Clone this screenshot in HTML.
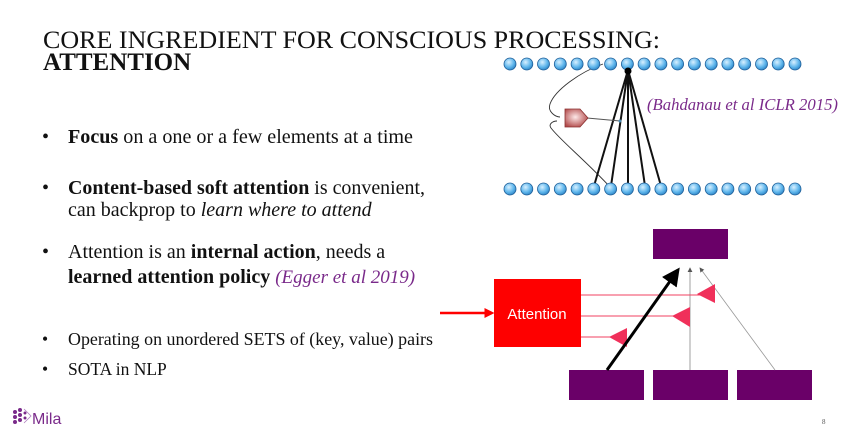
<!DOCTYPE html>
<html><head><meta charset="utf-8"><style>
html,body{margin:0;padding:0;background:#fff;}
svg{display:block;}
text{font-family:"Liberation Serif",serif;}
</style></head><body>
<svg width="865" height="440" viewBox="0 0 865 440" xmlns="http://www.w3.org/2000/svg">
<defs>
<radialGradient id="cg" cx="40%" cy="35%" r="70%">
<stop offset="0" stop-color="#d8f0ff"/><stop offset="0.6" stop-color="#5fb6ec"/><stop offset="1" stop-color="#2a7fc0"/>
</radialGradient>
<radialGradient id="pg" cx="45%" cy="45%" r="60%">
<stop offset="0" stop-color="#fde8e8"/><stop offset="1" stop-color="#b24a4a"/>
</radialGradient>
<marker id="ah" markerWidth="6" markerHeight="6" refX="5" refY="3" orient="auto" markerUnits="strokeWidth">
<path d="M0,0 L6,3 L0,6 z" fill="#000"/></marker>
<marker id="ahs" markerWidth="6" markerHeight="6" refX="5" refY="3" orient="auto" markerUnits="strokeWidth">
<path d="M0,0 L6,3 L0,6 z" fill="#555"/></marker>
<marker id="ahr" markerWidth="4" markerHeight="4" refX="3" refY="2" orient="auto" markerUnits="strokeWidth">
<path d="M0,0 L4,2 L0,4 z" fill="#f00"/></marker>
</defs>

<!-- Title -->
<text x="43" y="48" font-size="25.5" fill="#111" textLength="617" lengthAdjust="spacingAndGlyphs">CORE INGREDIENT FOR CONSCIOUS PROCESSING:</text>
<text x="43" y="70" font-size="25" font-weight="bold" fill="#111">ATTENTION</text>

<!-- Bullets -->
<g font-size="20" fill="#111">
<text x="42" y="143">•</text>
<text x="68" y="143" textLength="345" lengthAdjust="spacingAndGlyphs"><tspan font-weight="bold">Focus</tspan> on a one or a few elements at a time</text>
<text x="42" y="194">•</text>
<text x="68" y="194" textLength="357" lengthAdjust="spacingAndGlyphs"><tspan font-weight="bold">Content-based soft attention</tspan> is convenient,</text>
<text x="68" y="216">can backprop to <tspan font-style="italic">learn where to attend</tspan></text>
<text x="42" y="258">•</text>
<text x="68" y="258">Attention is an <tspan font-weight="bold">internal action</tspan>, needs a</text>
<text x="68" y="283"><tspan font-weight="bold">learned attention policy</tspan> <tspan font-style="italic" fill="#7a2a8a" font-size="19">(Egger et al 2019)</tspan></text>
</g>
<g font-size="17.5" fill="#111">
<text x="42" y="345">•</text>
<text x="68" y="345" textLength="365" lengthAdjust="spacingAndGlyphs">Operating on unordered SETS of (key, value) pairs</text>
<text x="42" y="375">•</text>
<text x="68" y="375">SOTA in NLP</text>
</g>

<!-- Mila logo -->
<g fill="#7a2a8a">
<circle cx="15" cy="412" r="2"/><circle cx="20" cy="410" r="2"/><circle cx="15" cy="417" r="2"/><circle cx="20" cy="415" r="2"/>
<circle cx="15" cy="422" r="2"/><circle cx="20" cy="420" r="2"/><circle cx="25" cy="413" r="1.5"/><circle cx="25" cy="418" r="1.5"/>
<path d="M24,409 L31,416 L24,423" fill="none" stroke="#b080c0" stroke-width="0.8"/>
</g>
<text x="32" y="424" font-size="16" fill="#7a2a8a" style="font-family:'Liberation Sans',sans-serif">Mila</text>
<text x="822" y="424" font-size="7" fill="#555">8</text>

<!-- Bahdanau network -->
<g stroke="#333" stroke-width="0.9" fill="none">
<path d="M603,64 C580,72 555,90 550,104 C547,112 556,117 560,117"/>
<path d="M611,188 C585,160 560,140 551,128 C548,124 553,121 557,121"/>
</g>
<g stroke="#111" stroke-width="2">
<line x1="628" y1="70" x2="594" y2="186"/>
<line x1="628" y1="70" x2="611" y2="186"/>
<line x1="628" y1="70" x2="628" y2="186"/>
<line x1="628" y1="70" x2="645" y2="186"/>
<line x1="628" y1="70" x2="661" y2="186"/>
</g>
<line x1="587" y1="118" x2="620" y2="121" stroke="#555" stroke-width="1"/>
<circle cx="620" cy="121" r="1.5" fill="#4a8ab0"/>
<polygon points="565,109 580,109 588,118 580,127 565,127" fill="url(#pg)" stroke="#8a3030" stroke-width="0.8"/>
<g stroke="#1f5f99" stroke-width="0.8" fill="url(#cg)">
<circle cx="510" cy="64" r="6"/><circle cx="526.8" cy="64" r="6"/><circle cx="543.5" cy="64" r="6"/><circle cx="560.3" cy="64" r="6"/><circle cx="577.1" cy="64" r="6"/><circle cx="593.8" cy="64" r="6"/><circle cx="610.6" cy="64" r="6"/><circle cx="627.4" cy="64" r="6"/><circle cx="644.1" cy="64" r="6"/><circle cx="660.9" cy="64" r="6"/><circle cx="677.6" cy="64" r="6"/><circle cx="694.4" cy="64" r="6"/><circle cx="711.2" cy="64" r="6"/><circle cx="727.9" cy="64" r="6"/><circle cx="744.7" cy="64" r="6"/><circle cx="761.5" cy="64" r="6"/><circle cx="778.2" cy="64" r="6"/><circle cx="795" cy="64" r="6"/>
<circle cx="510" cy="189" r="6"/><circle cx="526.8" cy="189" r="6"/><circle cx="543.5" cy="189" r="6"/><circle cx="560.3" cy="189" r="6"/><circle cx="577.1" cy="189" r="6"/><circle cx="593.8" cy="189" r="6"/><circle cx="610.6" cy="189" r="6"/><circle cx="627.4" cy="189" r="6"/><circle cx="644.1" cy="189" r="6"/><circle cx="660.9" cy="189" r="6"/><circle cx="677.6" cy="189" r="6"/><circle cx="694.4" cy="189" r="6"/><circle cx="711.2" cy="189" r="6"/><circle cx="727.9" cy="189" r="6"/><circle cx="744.7" cy="189" r="6"/><circle cx="761.5" cy="189" r="6"/><circle cx="778.2" cy="189" r="6"/><circle cx="795" cy="189" r="6"/>
</g>
<circle cx="628" cy="71" r="3.5" fill="#000"/>
<text x="647" y="110" font-size="16.5" font-style="italic" fill="#7a2a8a" textLength="191" lengthAdjust="spacingAndGlyphs">(Bahdanau et al ICLR 2015)</text>

<!-- Attention diagram -->
<rect x="653" y="229" width="75" height="30" fill="#6a0068"/>
<rect x="569" y="370" width="75" height="30" fill="#6a0068"/>
<rect x="653" y="370" width="75" height="30" fill="#6a0068"/>
<rect x="737" y="370" width="75" height="30" fill="#6a0068"/>
<line x1="690" y1="370" x2="690" y2="268" stroke="#888" stroke-width="0.8" marker-end="url(#ahs)"/>
<line x1="775" y1="370" x2="700" y2="268" stroke="#999" stroke-width="0.8" marker-end="url(#ahs)"/>
<line x1="440" y1="313" x2="492" y2="313" stroke="#f00" stroke-width="2.5" marker-end="url(#ahr)"/>
<rect x="494" y="279" width="87" height="68" fill="#fe0000"/>
<text x="537" y="319" text-anchor="middle" font-size="15" fill="#fff" style="font-family:'Liberation Sans',sans-serif">Attention</text>
<g stroke="#f04060" stroke-width="1">
<line x1="581" y1="295" x2="700" y2="295"/>
<line x1="581" y1="316" x2="675" y2="316"/>
<line x1="581" y1="337" x2="612" y2="337"/>
</g>
<g fill="#f0305a">
<polygon points="697,294 715,284 715,303"/>
<polygon points="672,316 690,307 690,327"/>
<polygon points="609,337 627,328 627,347"/>
</g>
<line x1="607" y1="370" x2="678" y2="270" stroke="#000" stroke-width="3" marker-end="url(#ah)"/>
</svg>
</body></html>
